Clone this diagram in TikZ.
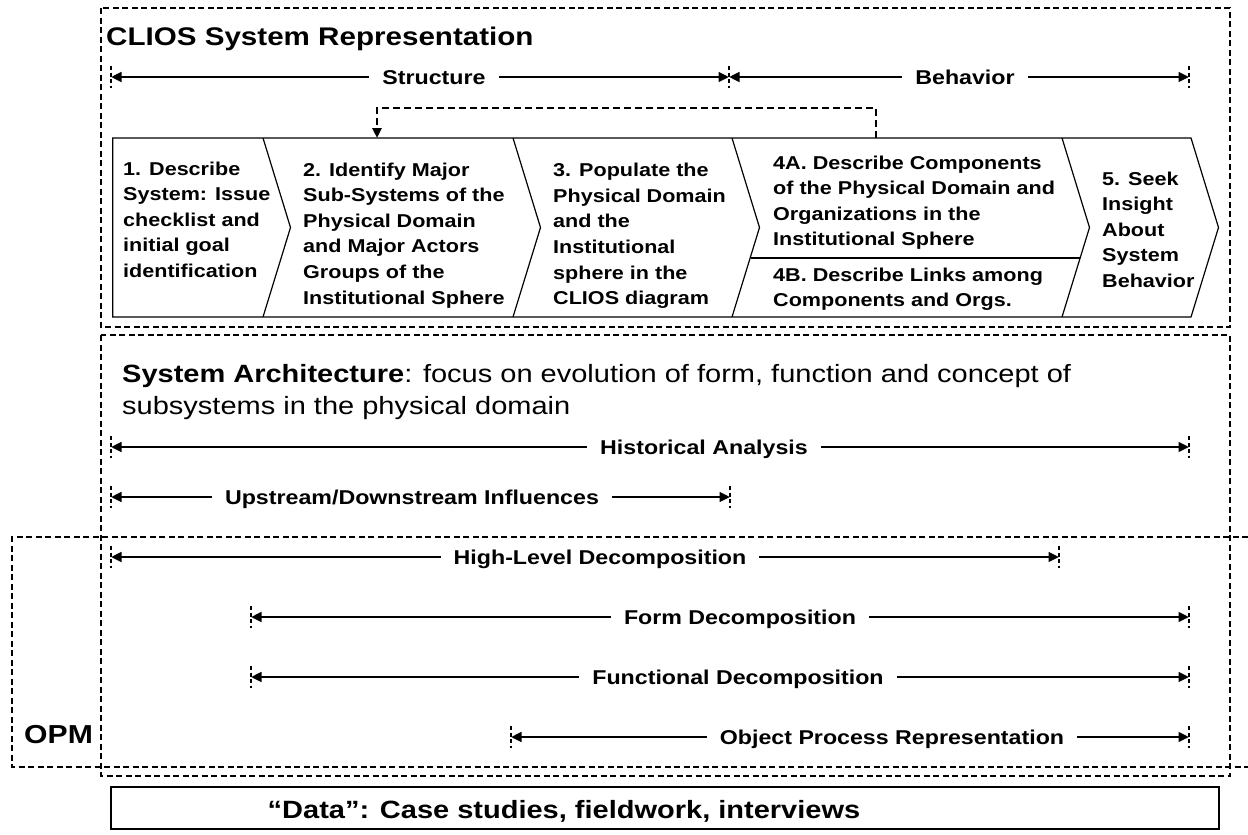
\documentclass[tikz,border=0pt]{standalone}
\usepackage{fontspec}
\setmainfont{Liberation Sans}[FakeStretch=1.16]
\usetikzlibrary{arrows.meta}

\begin{document}
\begin{tikzpicture}[x=1pt,y=-1pt,
  frame/.style={draw, line width=1.8pt, dash pattern=on 6pt off 3.5pt},
  chev/.style={draw, line width=1.2pt},
  steptext/.style={font=\fontsize{18.6}{25.6}\selectfont\bfseries, align=left, anchor=north west, inner sep=0pt},
  span/.style={line width=2.6pt, {Triangle[length=10.5pt,width=9.5pt]}-{Triangle[length=10.5pt,width=9.5pt]}},
  endbar/.style={line width=2.4pt, dash pattern=on 4pt off 2.5pt},
  spanlabel/.style={fill=white, anchor=base, font=\fontsize{20}{24}\selectfont\bfseries, inner xsep=13pt, inner ysep=3pt},
  feedback/.style={line width=2.6pt, dash pattern=on 7pt off 4pt, -{Triangle[length=10pt,width=9pt]}}
]
\useasboundingbox (0,0) rectangle (1248,835);

% ---------- frames ----------
\draw[frame] (101,8) rectangle (1230,327);
\draw[frame] (101,335) rectangle (1230,776);
\draw[frame] (1248,537) -- (12,537) -- (12,767) -- (1248,767);
\draw[line width=1.2pt] (111,787) rectangle (1219,829);

% ---------- titles ----------
\node[anchor=base west, inner sep=0pt, font=\fontsize{25.5}{30}\selectfont\bfseries] (title) at (106,45) {CLIOS System Representation};
\node[anchor=north west, inner sep=0pt, align=left, font=\fontsize{25}{32}\selectfont] (satext) at (122,364)
  {\textbf{System Architecture}: focus on evolution of form, function and concept of\\subsystems in the physical domain};
\node[anchor=base west, inner sep=0pt, font=\fontsize{26}{30}\selectfont\bfseries] (opm) at (24,743) {OPM};
\node[anchor=base, inner sep=0pt, font=\fontsize{25}{30}\selectfont\bfseries] (datatext) at (564,818) {“Data”: Case studies, fieldwork, interviews};

% ---------- chevron process row ----------
\draw[chev] (112.7,138) -- (1191,138) -- (1218.5,227.5) -- (1191,317) -- (112.7,317) -- cycle;
\foreach \bx in {263,513,732,1062}
  \draw[chev] (\bx,138) -- (\bx+27.5,227.5) -- (\bx,317);
\draw[chev] (750.5,258) -- (1080,258);

\node[steptext] (s1) at (123,161.5) {1. Describe\\System: Issue\\checklist and\\initial goal\\identification};
\node[steptext] (s2) at (303,162.5) {2. Identify Major\\Sub-Systems of the\\Physical Domain\\and Major Actors\\Groups of the\\Institutional Sphere};
\node[steptext] (s3) at (553,163) {3. Populate the\\Physical Domain\\and the\\Institutional\\sphere in the\\CLIOS diagram};
\node[steptext] (s4a) at (773,155.5) {4A. Describe Components\\of the Physical Domain and\\Organizations in the\\Institutional Sphere};
\node[steptext] (s4b) at (773,267.5) {4B. Describe Links among\\Components and Orgs.};
\node[steptext] (s5) at (1102,171.5) {5. Seek\\Insight\\About\\System\\Behavior};

% feedback from step 4 back to step 2
\coordinate (fbfrom) at (876,138);
\coordinate (fbto) at (377,138);
\draw[feedback] (fbfrom) -- ++(0,-30) -| (fbto);

% ---------- spans ----------
% Structure / Behavior
\coordinate (sta) at (111,77);
\coordinate (stb) at (729,77);
\coordinate (beb) at (1189,77);
\draw[span] (sta) -- (stb);
\draw[span] (stb) -- (beb);
\node[spanlabel] (stl) at (434,84) {Structure};
\node[spanlabel] (bel) at (965,84) {Behavior};

% Historical analysis
\coordinate (hia) at (111,447);
\coordinate (hib) at (1189,447);
\draw[span] (hia) -- (hib);
\node[spanlabel] (hil) at (704,454) {Historical Analysis};

% Upstream/Downstream
\coordinate (upa) at (111,497);
\coordinate (upb) at (730,497);
\draw[span] (upa) -- (upb);
\node[spanlabel] (upl) at (412,504) {Upstream/Downstream Influences};

% High-level decomposition
\coordinate (hla) at (111,557);
\coordinate (hlb) at (1059,557);
\draw[span] (hla) -- (hlb);
\node[spanlabel] (hll) at (600,564) {High-Level Decomposition};

% Form decomposition
\coordinate (foa) at (251,617);
\coordinate (fob) at (1189,617);
\draw[span] (foa) -- (fob);
\node[spanlabel] (fol) at (740,624) {Form Decomposition};

% Functional decomposition
\coordinate (fua) at (251,677);
\coordinate (fub) at (1189,677);
\draw[span] (fua) -- (fub);
\node[spanlabel] (ful) at (738,684) {Functional Decomposition};

% Object process representation
\coordinate (opa) at (511,737);
\coordinate (opb) at (1189,737);
\draw[span] (opa) -- (opb);
\node[spanlabel] (opl) at (892,744) {Object Process Representation};

% end bars
\foreach \c in {sta,stb,beb,hia,hib,upa,upb,hla,hlb,foa,fob,fua,fub,opa,opb}
  \draw[endbar] ([yshift=11pt]\c) -- ([yshift=-11pt]\c);
\end{tikzpicture}
\end{document}
